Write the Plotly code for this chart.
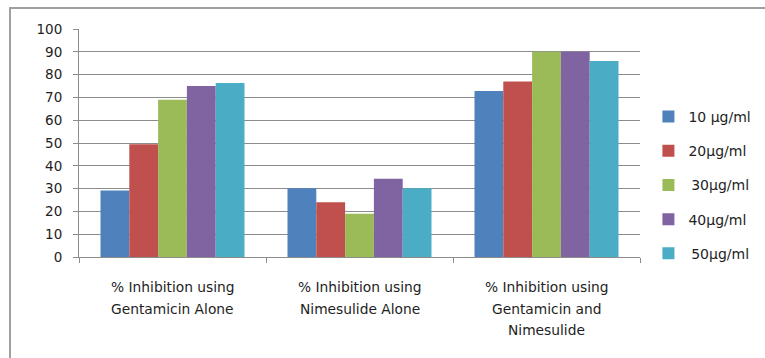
import plotly.graph_objects as go

# Treatment groups on the x axis
categories = [
    "% Inhibition using<br>Gentamicin Alone",
    "% Inhibition using<br>Nimesulide Alone",
    "% Inhibition using<br>Gentamicin and<br>Nimesulide",
]

# Concentration series (legend labels)
series_names = ["10 µg/ml", "20µg/ml", "\u200930µg/ml", "40µg/ml", "\u200950µg/ml"]
series_colors = ["#4F81BD", "#C0504D", "#9BBB59", "#8064A2", "#4BACC6"]

# Percent inhibition per group, one list per concentration
inhib_10 = [29.2, 30.2, 72.8]
inhib_20 = [49.4, 24.0, 77.0]
inhib_30 = [69.0, 19.0, 90.0]
inhib_40 = [75.0, 34.3, 90.0]
inhib_50 = [76.3, 30.2, 86.0]
series_values = [inhib_10, inhib_20, inhib_30, inhib_40, inhib_50]

y_ticks = list(range(0, 101, 10))

FONT = "DejaVu Sans"
TEXT = "#1e1e1e"
GRID = "#8c8c8c"

fig = go.Figure()
for name, color, vals in zip(series_names, series_colors, series_values):
    fig.add_trace(go.Bar(
        x=categories, y=vals, name=name,
        marker=dict(color=color, line=dict(width=0)),
        legendgroup=name,
    ))

# Multi-line category labels drawn beneath the axis
for cat in categories:
    for i, line in enumerate(cat.split("<br>")):
        fig.add_annotation(
            x=cat, xref="x", y=0, yref="paper",
            text=line, showarrow=False,
            yanchor="middle", xanchor="center",
            yshift=-30 - 21.5 * i,
            font=dict(family=FONT, size=13.8, color=TEXT),
        )

# Chart-area border
fig.add_shape(
    type="rect", xref="paper", yref="paper",
    x0=-0.123, x1=1.4, y0=-0.6, y1=1.092,
    line=dict(color="#a0a0a0", width=2), layer="below",
)

fig.update_layout(
    width=765, height=358,
    margin=dict(l=79, r=125, t=29, b=101, autoexpand=False),
    paper_bgcolor="white", plot_bgcolor="white",
    barmode="group", bargap=0.23, bargroupgap=0,
    font=dict(family=FONT, size=13, color=TEXT),
    showlegend=True,
    legend=dict(
        x=1.015, xanchor="left", y=0.316, yanchor="middle",
        traceorder="grouped", tracegroupgap=13,
        font=dict(family=FONT, size=14, color=TEXT),
        itemwidth=30,
    ),
    xaxis=dict(
        showticklabels=False,
        ticks="outside", tickson="boundaries", ticklen=5,
        tickcolor=GRID, showline=True, linecolor=GRID, linewidth=1,
        showgrid=False,
    ),
    yaxis=dict(
        range=[0, 100], tickvals=y_ticks,
        ticks="outside", ticklen=5, tickcolor=GRID,
        showline=True, linecolor=GRID, linewidth=1,
        showgrid=True, gridcolor=GRID, gridwidth=1,
        zeroline=False, ticklabelstandoff=8,
        tickfont=dict(family=FONT, size=13.5, color=TEXT),
    ),
)

fig.write_html("out.html")
